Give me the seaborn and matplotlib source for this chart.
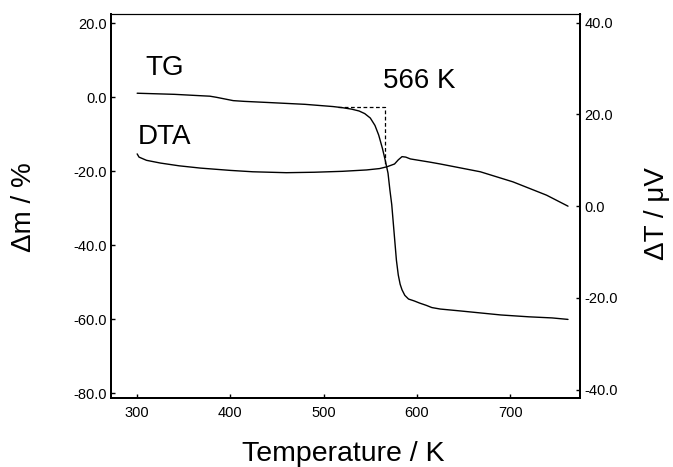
import matplotlib
matplotlib.use("Agg")
import matplotlib.pyplot as plt
import seaborn as sns
from matplotlib.ticker import FormatStrFormatter

# Thermogravimetric (TG) curve: temperature / K and mass change / %
tg_temp = [300, 340, 370, 378, 385, 395, 403, 415, 440, 480, 510, 520, 530,
           538, 544, 550, 555, 559, 563, 566, 569, 571, 573, 576, 578, 580,
           582, 584, 587, 591, 597, 603, 610, 616, 625, 646, 670, 690, 720,
           745, 762]
tg_mass = [1.1, 0.8, 0.4, 0.3, 0.0, -0.5, -0.9, -1.1, -1.4, -1.9, -2.5,
           -2.8, -3.2, -3.7, -4.4, -5.6, -7.6, -10.2, -13.8, -17.0, -20.5,
           -25.0, -29.0, -38.0, -44.0, -48.0, -50.5, -52.0, -53.5, -54.5,
           -55.0, -55.6, -56.2, -56.8, -57.2, -57.7, -58.3, -58.8, -59.3,
           -59.6, -60.0]

# Differential thermal analysis (DTA) curve: temperature / K and ΔT / µV
dta_temp = [300, 302, 310, 325, 345, 368, 400, 424, 460, 490, 520, 546, 560,
            568, 576, 580, 584, 588, 593, 614, 625, 668, 703, 739, 762]
dta_signal = [11.4, 10.7, 10.0, 9.4, 8.8, 8.3, 7.8, 7.5, 7.3, 7.4, 7.6, 7.9,
              8.2, 8.6, 9.2, 10.1, 10.8, 10.7, 10.3, 9.6, 9.2, 7.5, 5.3, 2.4,
              0.0]

# Extrapolated onset construction (onset temperature 566 K)
onset_temp = 566
onset_x = [515, onset_temp, onset_temp]
onset_y = [-2.7, -2.7, -18.0]

x_ticks = [300, 400, 500, 600, 700]
left_ticks = [-80, -60, -40, -20, 0, 20]
right_ticks = [-40, -20, 0, 20, 40]

sns.set_theme(style="ticks")
plt.rcParams["font.family"] = ["Liberation Sans", "DejaVu Sans"]
plt.rcParams["text.color"] = "black"
plt.rcParams["axes.labelcolor"] = "black"

fig = plt.figure(figsize=(6.73, 4.67), dpi=100)
ax = fig.add_axes([0.165, 0.148, 0.697, 0.822])
ax2 = ax.twinx()

sns.lineplot(x=tg_temp, y=tg_mass, ax=ax, color="black", linewidth=1.0,
             sort=False, estimator=None)
sns.lineplot(x=onset_x, y=onset_y, ax=ax, color="black", linewidth=0.9,
             linestyle=(0, (3, 2)), sort=False, estimator=None)
sns.lineplot(x=dta_temp, y=dta_signal, ax=ax2, color="black", linewidth=1.0,
             sort=False, estimator=None)

ax.set_xlim(272, 775)
ax.set_ylim(-81.2, 22.5)
ax2.set_ylim(-41.8, 41.9)

ax.set_xticks(x_ticks)
ax.set_yticks(left_ticks)
ax2.set_yticks(right_ticks)
ax.yaxis.set_major_formatter(FormatStrFormatter("%.1f"))
ax2.yaxis.set_major_formatter(FormatStrFormatter("%.1f"))

for a in (ax, ax2):
    a.tick_params(direction="in", length=3, width=1.0, labelsize=10.5,
                  colors="black")
    for side, sp in a.spines.items():
        sp.set_visible(True)
        sp.set_color("black")
        sp.set_linewidth(0.8 if side == "top" else 1.4)
ax.tick_params(axis="x", pad=6)
ax.tick_params(axis="y", pad=3)
ax2.tick_params(axis="y", pad=3)

ax.set_xlabel("Temperature / K", fontsize=20.5)
ax.xaxis.label.set_va("baseline")
ax.xaxis.set_label_coords(0.495, -0.164)

ax.set_ylabel("Δm / %", fontsize=20)
ax.yaxis.label.set_va("center")
ax.yaxis.set_label_coords(-0.185, 0.497)

ax2.set_ylabel("ΔT / μV", fontsize=20, rotation=90)
ax2.yaxis.label.set_va("center")
ax2.yaxis.set_label_coords(1.164, 0.479)

ax.text(329, 7.9, "TG", fontsize=20, ha="center", va="center")
ax.text(329, -10.7, "DTA", fontsize=20, ha="center", va="center")
ax.text(603, 4.4, f"{onset_temp} K", fontsize=20, ha="center", va="center")

fig.savefig("out.png", dpi=100)
